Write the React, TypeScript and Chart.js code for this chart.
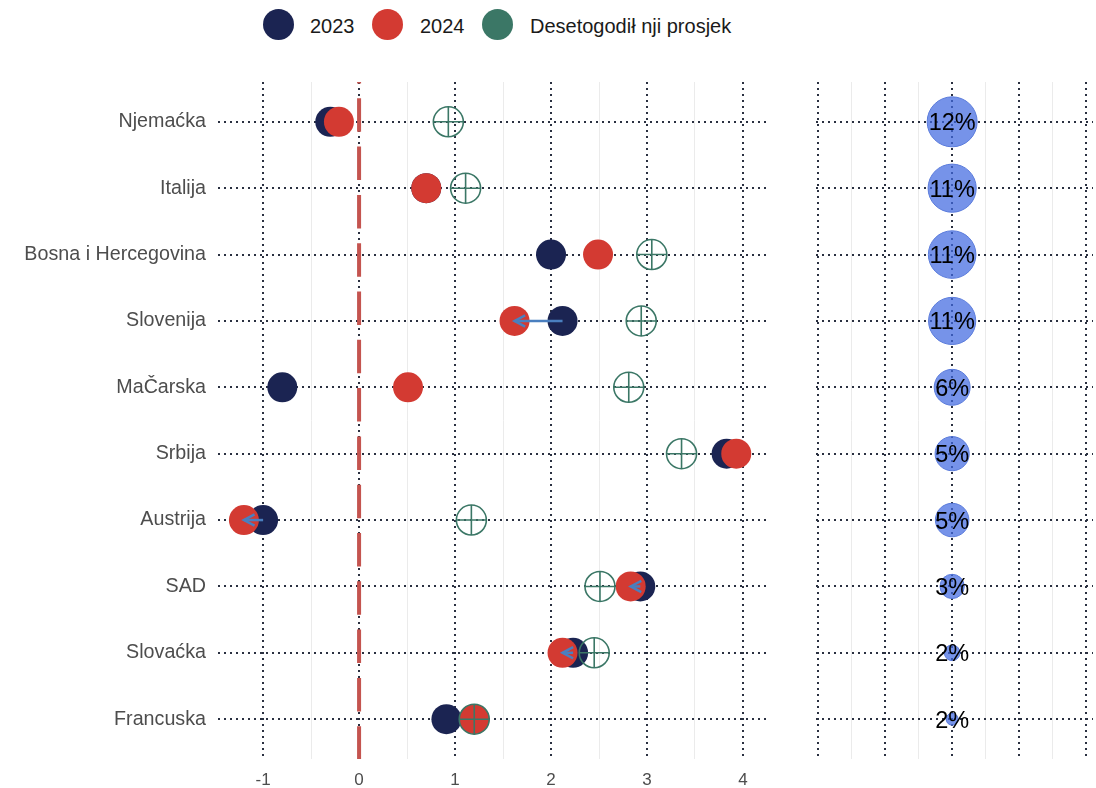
import React, { useEffect, useRef } from "react";
import { Chart, registerables } from "chart.js";

Chart.register(...registerables);

const categories = [
  "Njemaćka",
  "Italija",
  "Bosna i Hercegovina",
  "Slovenija",
  "MaČarska",
  "Srbija",
  "Austrija",
  "SAD",
  "Slovaćka",
  "Francuska",
];
const values2023 = [-0.3, 0.7, 2.0, 2.12, -0.8, 3.83, -1.0, 2.93, 2.23, 0.91];
const values2024 = [-0.21, 0.7, 2.49, 1.62, 0.51, 3.93, -1.2, 2.83, 2.12, 1.2];
const tenYearAvg = [0.93, 1.11, 3.05, 2.94, 2.81, 3.36, 1.17, 2.51, 2.45, 1.2];
const shares = [12.3, 11.3, 11.0, 10.8, 5.9, 5.3, 5.1, 2.8, 1.8, 1.7];
const xMajorTicks = [-1, 0, 1, 2, 3, 4];
const xMinorTicks = [-0.5, 0.5, 1.5, 2.5, 3.5];
const rightMajorTicks = [-2, -1, 0, 1, 2];
const rightMinorTicks = [-1.5, -0.5, 0.5, 1.5];
const legendLabels = ["2023", "2024", "Desetogodił nji prosjek"];

const FONT = '"Liberation Sans", Arial, Helvetica, sans-serif';
const NAVY = "#1B2452";
const RED = "#D33A32";
const GREEN = "#3B7766";
const GRID_DOT = "#2A3040";
const GRID_MINOR = "#EBEBEB";
const ARROW = "#4A7FBF";

const Y_MIN = 0.4;
const Y_MAX = 10.6;

const isMajor = (v: number) => Number.isInteger(v);

const sMin = Math.min(...shares);
const sMax = Math.max(...shares);
const bubbleRadius = (s: number) => 6 + 19 * Math.sqrt((s - sMin) / (sMax - sMin));

const yScale = (showLabels: boolean) => ({
  type: "linear",
  reverse: true,
  min: Y_MIN,
  max: Y_MAX,
  afterBuildTicks: (s: any) => {
    s.ticks = categories.map((_, i) => ({ value: i + 1 }));
  },
  afterFit: (s: any) => {
    s.width = showLabels ? 218 : 0;
  },
  grid: { color: GRID_DOT, lineWidth: 2, drawTicks: false },
  border: { display: false, dash: [2, 4] },
  ticks: {
    display: showLabels,
    autoSkip: false,
    padding: 12,
    color: "#4D4D4D",
    font: { family: FONT, size: 19.7 },
    callback: (v: number) => categories[Math.round(v) - 1] ?? "",
  },
});

const xScale = (min: number, max: number, major: number[], minor: number[], showLabels: boolean) => ({
  type: "linear",
  min,
  max,
  afterBuildTicks: (s: any) => {
    s.ticks = [...major, ...minor].sort((a, b) => a - b).map((v) => ({ value: v }));
  },
  afterFit: (s: any) => {
    s.height = showLabels ? 29 : 0;
  },
  grid: {
    drawTicks: false,
    color: (ctx: any) => (isMajor(ctx.tick?.value) ? GRID_DOT : GRID_MINOR),
    lineWidth: (ctx: any) => (isMajor(ctx.tick?.value) ? 2 : 1),
  },
  border: {
    display: false,
    dash: (ctx: any) => (isMajor(ctx.tick?.value) ? [2, 4] : []),
  },
  ticks: {
    display: showLabels,
    autoSkip: false,
    maxRotation: 0,
    padding: 11,
    color: "#4D4D4D",
    font: { family: FONT, size: 17 },
    callback: (v: number) => (isMajor(v) ? String(v) : ""),
  },
});

const arrowPlugin = {
  id: "changeArrows",
  afterDatasetsDraw(chart: any) {
    const { ctx, scales } = chart;
    const x = scales.x;
    const y = scales.y;
    ctx.save();
    ctx.strokeStyle = ARROW;
    ctx.lineWidth = 2.5;
    ctx.lineCap = "butt";
    categories.forEach((_, i) => {
      const a = values2023[i];
      const b = values2024[i];
      if (b >= a) return;
      const x0 = x.getPixelForValue(a);
      const x1 = x.getPixelForValue(b);
      const yy = y.getPixelForValue(i + 1);
      const ang = (28 * Math.PI) / 180;
      const len = 12;
      ctx.beginPath();
      ctx.moveTo(x0, yy);
      ctx.lineTo(x1, yy);
      ctx.stroke();
      ctx.beginPath();
      ctx.moveTo(x1 + len * Math.cos(ang), yy - len * Math.sin(ang));
      ctx.lineTo(x1, yy);
      ctx.lineTo(x1 + len * Math.cos(ang), yy + len * Math.sin(ang));
      ctx.stroke();
    });
    ctx.restore();
  },
};

const bubbleLabelPlugin = {
  id: "bubbleLabels",
  afterDatasetsDraw(chart: any) {
    const { ctx } = chart;
    const meta = chart.getDatasetMeta(0);
    ctx.save();
    ctx.fillStyle = "#000000";
    ctx.font = `23.5px ${FONT}`;
    ctx.textAlign = "center";
    ctx.textBaseline = "middle";
    meta.data.forEach((el: any, i: number) => {
      ctx.fillText(`${Math.round(shares[i])}%`, el.x, el.y + 2);
    });
    ctx.restore();
  },
};

const pts = (vals: number[]) => vals.map((v, i) => ({ x: v, y: i + 1 }));

export default function App() {
  const leftRef = useRef<HTMLCanvasElement>(null);
  const rightRef = useRef<HTMLCanvasElement>(null);

  useEffect(() => {
    const left = new Chart(leftRef.current as HTMLCanvasElement, {
      type: "scatter",
      data: {
        datasets: [
          {
            type: "line",
            label: "zero",
            data: [
              { x: 0, y: Y_MIN },
              { x: 0, y: Y_MAX },
            ],
            borderColor: "#C4544F",
            borderWidth: 4,
            borderDash: [33.5, 14.8],
            borderDashOffset: 32,
            pointRadius: 0,
            showLine: true,
            fill: false,
            order: 10,
          },
          {
            label: legendLabels[0],
            data: pts(values2023),
            backgroundColor: NAVY,
            borderWidth: 0,
            pointRadius: 15,
            order: 5,
          },
          {
            label: legendLabels[1],
            data: pts(values2024),
            backgroundColor: RED,
            borderWidth: 0,
            pointRadius: 15,
            order: 4,
          },
          {
            label: legendLabels[2],
            data: pts(tenYearAvg),
            pointStyle: "circle",
            backgroundColor: "rgba(0,0,0,0)",
            borderColor: GREEN,
            borderWidth: 1.6,
            pointRadius: 15,
            order: 3,
          },
          {
            label: legendLabels[2] + " +",
            data: pts(tenYearAvg),
            pointStyle: "cross",
            borderColor: GREEN,
            borderWidth: 1.6,
            pointRadius: 15,
            order: 2,
          },
        ],
      } as any,
      options: {
        responsive: false,
        animation: false,
        events: [],
        layout: { padding: { top: 82, right: 24, left: 0, bottom: 0 } },
        plugins: { legend: { display: false }, tooltip: { enabled: false } },
        scales: {
          x: xScale(-1.47, 4.24, xMajorTicks, xMinorTicks, true),
          y: yScale(true),
        } as any,
      },
      plugins: [arrowPlugin],
    });

    const right = new Chart(rightRef.current as HTMLCanvasElement, {
      type: "bubble",
      data: {
        datasets: [
          {
            label: "Udio",
            data: shares.map((s, i) => ({ x: 0, y: i + 1, r: bubbleRadius(s) })),
            backgroundColor: "rgba(65,105,225,0.72)",
            borderColor: "#5A7BDB",
            borderWidth: 1,
          },
        ],
      },
      options: {
        responsive: false,
        animation: false,
        events: [],
        layout: { padding: { top: 82, right: 26, left: 25.6, bottom: 29 } },
        plugins: { legend: { display: false }, tooltip: { enabled: false } },
        scales: {
          x: xScale(-2.03, 2.1, rightMajorTicks, rightMinorTicks, false),
          y: yScale(false),
        } as any,
      },
      plugins: [bubbleLabelPlugin],
    });

    return () => {
      left.destroy();
      right.destroy();
    };
  }, []);

  const legendItems = [
    { color: NAVY, cx: 278, tx: 310 },
    { color: RED, cx: 387.5, tx: 420 },
    { color: GREEN, cx: 497.5, tx: 530 },
  ];

  return (
    <div
      style={{
        position: "absolute",
        left: 0,
        top: 0,
        width: 1096,
        height: 788,
        background: "#ffffff",
        overflow: "hidden",
      }}
    >
      {legendItems.map((it, i) => (
        <React.Fragment key={i}>
          <div
            style={{
              position: "absolute",
              left: it.cx - 15.5,
              top: 24.5 - 15.5,
              width: 31,
              height: 31,
              borderRadius: "50%",
              background: it.color,
            }}
          />
          <span
            style={{
              position: "absolute",
              left: it.tx,
              top: 13.5,
              lineHeight: "24px",
              fontSize: 20,
              fontFamily: FONT,
              color: "#1A1A1A",
              whiteSpace: "nowrap",
            }}
          >
            {legendLabels[i]}
          </span>
        </React.Fragment>
      ))}
      <canvas
        ref={leftRef}
        width={790}
        height={788}
        style={{ position: "absolute", left: 0, top: 0, width: 790, height: 788 }}
      />
      <canvas
        ref={rightRef}
        width={329}
        height={788}
        style={{ position: "absolute", left: 790, top: 0, width: 329, height: 788 }}
      />
    </div>
  );
}
